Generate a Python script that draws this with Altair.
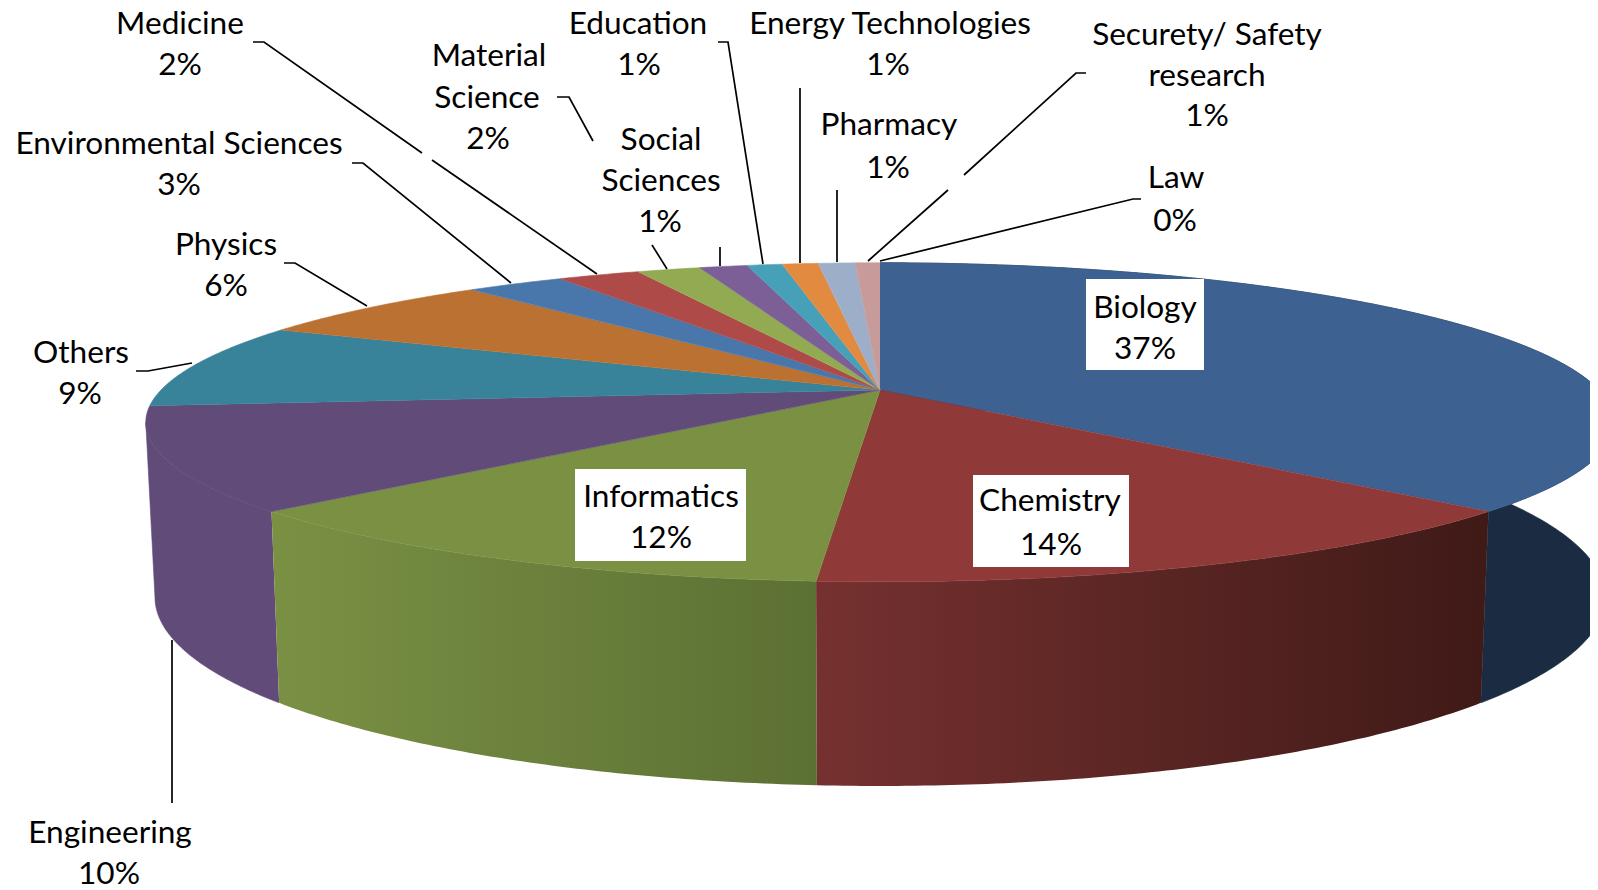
import math
import altair as alt
import pandas as pd

# Slice shares (percent), clockwise from the top
fields = ["Biology", "Chemistry", "Informatics", "Engineering", "Others", "Physics",
          "Environmental Sciences", "Medicine", "Material Science", "Social Sciences",
          "Education", "Energy Technologies", "Pharmacy", "Securety/ Safety research", "Law"]
shares = [37, 14.13, 11.87, 10.4, 8.6, 6.64, 2.63, 2.2, 1.69, 1.29, 0.94, 0.96, 0.99, 0.66, 0.0]
top_colors = ["#3d6190", "#8f3a39", "#7a9144", "#614b78", "#38829a", "#bb7132", "#4a77ab",
              "#ae4a48", "#92ab53", "#7b5f96", "#46a0b8", "#e28a40", "#9daec9", "#c89b9b", "#c89b9b"]

# Text lines: text, x, y
label_text = ["Medicine", "2%", "Material", "Science", "2%", "Education", "1%",
              "Energy Technologies", "1%", "Securety/ Safety", "research", "1%",
              "Pharmacy", "1%", "Law", "0%", "Social", "Sciences", "1%",
              "Environmental Sciences", "3%", "Physics", "6%", "Others", "9%",
              "Engineering", "10%", "Biology", "37%", "Chemistry", "14%", "Informatics", "12%"]
label_x = [180, 180, 489, 487, 488, 638, 639, 890, 888, 1207, 1207, 1207, 889, 888, 1176, 1175,
           661, 661, 660, 179, 179, 226, 226, 81, 80, 110, 109, 1145, 1145, 1050, 1051, 661, 661]
label_y = [25, 66, 57, 99, 140, 25, 66, 25, 66, 36, 77, 117, 126, 169, 179, 222,
           141, 182, 223, 145, 186, 246, 287, 354, 395, 834, 875, 309, 350, 502, 546, 498, 539]

# White boxes behind inside labels
box_x = [1086, 973, 575]
box_x2 = [1204, 1129, 746]
box_y = [279, 475, 469]
box_y2 = [370, 567, 561]

# Leader lines
leaders = [
    [(253, 42), (264, 42), (422, 153)],
    [(432, 160), (597, 274)],
    [(352, 163), (363, 163), (511, 283)],
    [(557, 97), (569, 97), (593, 141)],
    [(652, 245), (667, 269)],
    [(720, 247), (720, 266)],
    [(718, 42), (728, 42), (763, 264)],
    [(800, 88), (800, 263)],
    [(837, 190), (837, 262)],
    [(1086, 73), (1076, 73), (964, 175)],
    [(948, 190), (868, 261)],
    [(1141, 199), (1133, 199), (880, 261)],
    [(284, 263), (295, 263), (367, 306)],
    [(136, 371), (148, 371), (192, 363)],
    [(172, 640), (172, 803)],
]

# Perspective model of the disc
AX, AY = 880, 390
K = 0.2025
TOP_A, TOP_S = 719, 153
BOT_A, BOT_S, BOT_Y = 710, 181, 559
LEFT_TIP = math.pi + math.acos(K)


def top_pt(theta):
    u, v = math.sin(theta), math.cos(theta)
    d = 1 + K * v
    return AX + TOP_A * u / d, AY - TOP_S * v / d


def bot_pt(theta):
    u, v = math.sin(theta), math.cos(theta)
    d = 1 + K * v
    return AX + BOT_A * u / d, BOT_Y - BOT_S * v / d


def thetas(a, b):
    n = max(2, int((b - a) / 0.01))
    return [a + (b - a) * i / n for i in range(n + 1)]


cum = [0]
for s in shares:
    cum.append(cum[-1] + s)
ang = [c / sum(shares) * 2 * math.pi for c in cum]

xs = alt.Scale(domain=[8, 1590], range=[0, 1582], nice=False, zero=False)
ys = alt.Scale(domain=[8, 890], range=[0, 882], nice=False, zero=False)
X = alt.X("x:Q", scale=xs, axis=None)
Y = alt.Y("y:Q", scale=ys, axis=None)


def poly(points, fill, stroke):
    df = pd.DataFrame({"x": [p[0] for p in points], "y": [p[1] for p in points],
                       "i": list(range(len(points)))})
    return alt.Chart(df).mark_line(fill=fill, stroke=stroke, strokeWidth=0.6, interpolate="linear",
                                   clip=True).encode(x=X, y=Y, order="i:Q")


def grad(c1, c2):
    return alt.Gradient(gradient="linear", x1=0, x2=1, y1=0, y2=0,
                        stops=[alt.GradientStop(color=c1, offset=0), alt.GradientStop(color=c2, offset=1)])


def side(a, b, fill, stroke):
    t = thetas(a, b)
    return poly([top_pt(v) for v in t] + [bot_pt(v) for v in reversed(t)], fill, stroke)


layers = [
    side(ang[0], ang[1], "#1a2b42", "#1a2b42"),
    side(ang[3], min(ang[4], LEFT_TIP), "#614b78", "#614b78"),
    side(ang[2], ang[3], grad("#7a9144", "#5b7033"), "transparent"),
    side(ang[1], ang[2], grad("#753130", "#3f1a17"), "transparent"),
]
for i in range(len(shares)):
    if shares[i] <= 0:
        continue
    pts = [(AX, AY)] + [top_pt(a) for a in thetas(ang[i], ang[i + 1])]
    layers.append(poly(pts, top_colors[i], top_colors[i]))

lead = pd.DataFrame([{"x": p[0], "y": p[1], "k": n, "i": j}
                     for n, line in enumerate(leaders) for j, p in enumerate(line)])
layers.append(alt.Chart(lead).mark_line(color="black", strokeWidth=1.7).encode(
    x=X, y=Y, detail="k:N", order="i:Q"))

boxes = pd.DataFrame({"x": box_x, "x2": box_x2, "y": box_y, "y2": box_y2})
layers.append(alt.Chart(boxes).mark_rect(color="white").encode(x=X, x2="x2:Q", y=Y, y2="y2:Q"))

labels = pd.DataFrame({"t": label_text, "x": label_x, "y": label_y})
layers.append(alt.Chart(labels).mark_text(font="Lato", fontSize=31.6, color="#000000", align="center",
                                          baseline="middle").encode(x=X, y=Y, text="t:N"))

chart = alt.layer(*layers).properties(
    width=1582, height=882, padding=0, autosize=alt.AutoSizeParams(type="none"),
    background="white", view=alt.ViewConfig(stroke=None))
chart.save("out.html", embed_options={"renderer": "svg", "actions": False})
